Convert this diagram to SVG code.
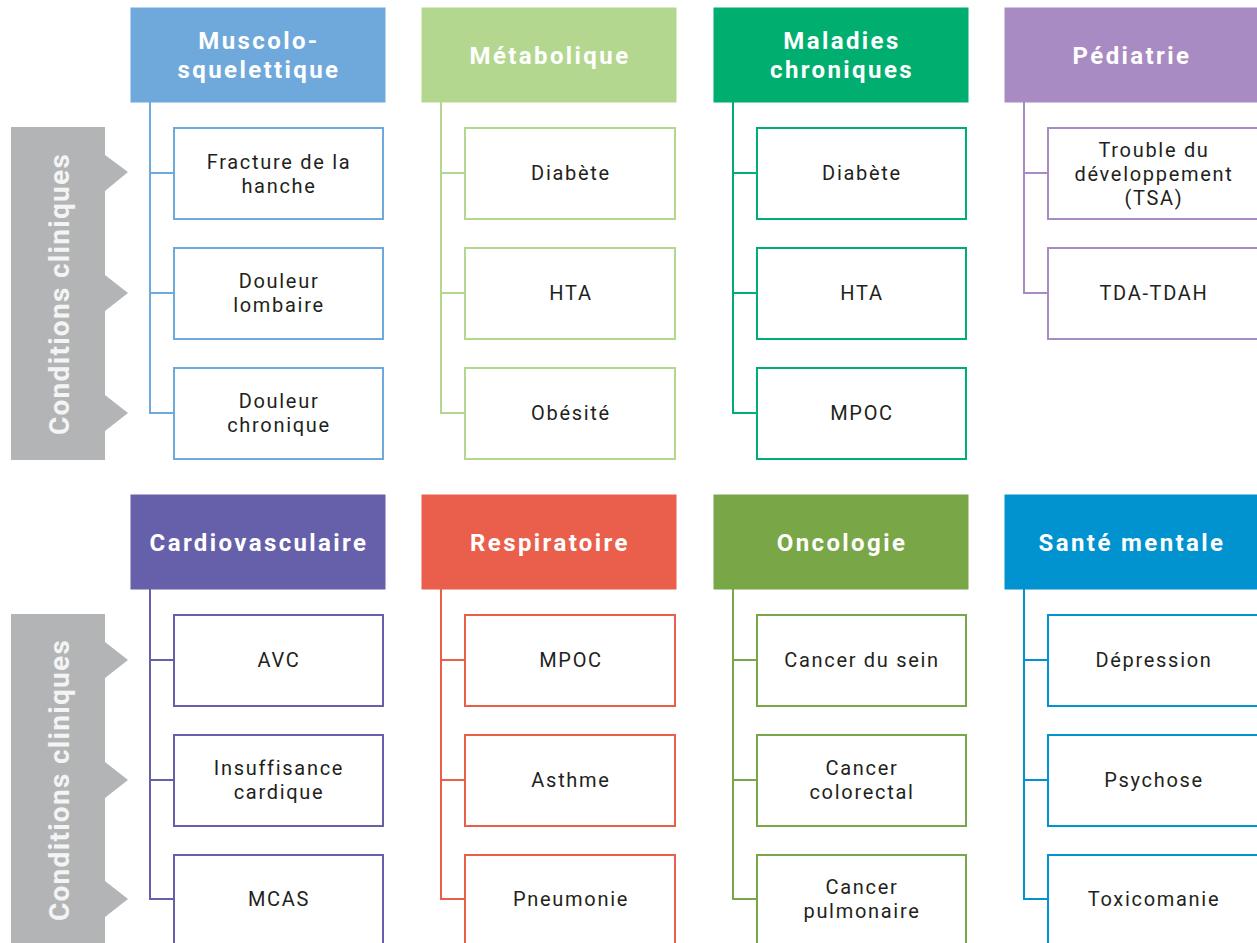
<svg xmlns="http://www.w3.org/2000/svg" width="1257" height="943" viewBox="0 0 1257 943">
<style>
.hd{stroke:none}
.bx{fill:#fff;stroke-width:2}
.ln{fill:none;stroke-width:2}
.ht{font-family:Roboto,"Open Sans",sans-serif;font-weight:700;font-size:24px;letter-spacing:2.4px;fill:#fff;text-anchor:middle}
.ct{font-family:Roboto,"Open Sans",sans-serif;font-size:20px;letter-spacing:1.7px;fill:#231f20;text-anchor:middle}
.side{fill:#b3b4b6}
.st{font-family:Roboto,"Open Sans",sans-serif;font-weight:700;font-size:28px;letter-spacing:1.3px;fill:#f4f4f4;text-anchor:middle}
.k1{fill:#6fa9dc;stroke:#6fa9dc}.k2{fill:#b3d78f;stroke:#b3d78f}.k3{fill:#00ae6f;stroke:#00ae6f}.k4{fill:#a88bc2;stroke:#a88bc2}
.k5{fill:#6660ab;stroke:#6660ab}.k6{fill:#ea5f4b;stroke:#ea5f4b}.k7{fill:#79a646;stroke:#79a646}.k8{fill:#0192d0;stroke:#0192d0}
.s1{stroke:#6fa9dc}.s2{stroke:#b3d78f}.s3{stroke:#00ae6f}.s4{stroke:#a88bc2}.s5{stroke:#6660ab}.s6{stroke:#ea5f4b}.s7{stroke:#79a646}.s8{stroke:#0192d0}
</style>
<rect width="1257" height="943" fill="#fff"/>
<g id="side1">
<path class="side" d="M11 127H105V155L128 172L105 191V275L128 293L105 311V395L128 413L105 431V460H11Z"/>
<text class="st" transform="translate(69 294) rotate(-90)">Conditions cliniques</text>
</g>
<g id="side2">
<path class="side" d="M11 614H105V642L128 660L105 678V762L128 780L105 798V881L128 899L105 917V943H11Z"/>
<text class="st" transform="translate(69 780) rotate(-90)">Conditions cliniques</text>
</g>
<g id="connectors">
<path class="ln s1" d="M150 101V413H173M150 173H173M150 293H173"/>
<path class="ln s2" d="M441 101V413H464M441 173H464M441 293H464"/>
<path class="ln s3" d="M733 101V413H756M733 173H756M733 293H756"/>
<path class="ln s4" d="M1024 101V293H1047M1024 173H1047"/>
<path class="ln s5" d="M150 589V899H173M150 660H173M150 780H173"/>
<path class="ln s6" d="M441 589V899H464M441 660H464M441 780H464"/>
<path class="ln s7" d="M733 589V899H756M733 660H756M733 780H756"/>
<path class="ln s8" d="M1024 589V899H1047M1024 660H1047M1024 780H1047"/>
</g>
<g id="h-muscolo"><rect class="hd k1" x="131" y="8" width="254" height="94"/><text class="ht" x="259" y="49">Muscolo-</text><text class="ht" x="259" y="78">squelettique</text></g>
<g id="h-metabolique"><rect class="hd k2" x="422" y="8" width="254" height="94"/><text class="ht" x="550" y="64">Métabolique</text></g>
<g id="h-maladies"><rect class="hd k3" x="714" y="8" width="254" height="94"/><text class="ht" x="842" y="49">Maladies</text><text class="ht" x="842" y="78">chroniques</text></g>
<g id="h-pediatrie"><rect class="hd k4" x="1005" y="8" width="252" height="94"/><text class="ht" x="1132" y="64">Pédiatrie</text></g>
<g id="h-cardio"><rect class="hd k5" x="131" y="495" width="254" height="94"/><text class="ht" x="259" y="551">Cardiovasculaire</text></g>
<g id="h-respi"><rect class="hd k6" x="422" y="495" width="254" height="94"/><text class="ht" x="550" y="551">Respiratoire</text></g>
<g id="h-onco"><rect class="hd k7" x="714" y="495" width="254" height="94"/><text class="ht" x="842" y="551">Oncologie</text></g>
<g id="h-sante"><rect class="hd k8" x="1005" y="495" width="252" height="94"/><text class="ht" x="1132" y="551">Santé mentale</text></g>

<g id="n-fracture"><rect class="bx s1" x="174" y="128" width="209" height="91"/><text class="ct" x="279" y="169">Fracture de la</text><text class="ct" x="279" y="193">hanche</text></g>
<g id="n-lombaire"><rect class="bx s1" x="174" y="248" width="209" height="91"/><text class="ct" x="279" y="288">Douleur</text><text class="ct" x="279" y="312">lombaire</text></g>
<g id="n-chronique"><rect class="bx s1" x="174" y="368" width="209" height="91"/><text class="ct" x="279" y="408">Douleur</text><text class="ct" x="279" y="432">chronique</text></g>

<g id="n-diabete1"><rect class="bx s2" x="465" y="128" width="210" height="91"/><text class="ct" x="571" y="180">Diabète</text></g>
<g id="n-hta1"><rect class="bx s2" x="465" y="248" width="210" height="91"/><text class="ct" x="571" y="300">HTA</text></g>
<g id="n-obesite"><rect class="bx s2" x="465" y="368" width="210" height="91"/><text class="ct" x="571" y="420">Obésité</text></g>

<g id="n-diabete2"><rect class="bx s3" x="757" y="128" width="209" height="91"/><text class="ct" x="862" y="180">Diabète</text></g>
<g id="n-hta2"><rect class="bx s3" x="757" y="248" width="209" height="91"/><text class="ct" x="862" y="300">HTA</text></g>
<g id="n-mpoc1"><rect class="bx s3" x="757" y="368" width="209" height="91"/><text class="ct" x="862" y="420">MPOC</text></g>

<g id="n-tsa"><rect class="bx s4" x="1048" y="128" width="211" height="91"/><text class="ct" x="1154" y="157">Trouble du</text><text class="ct" x="1154" y="181">développement</text><text class="ct" x="1154" y="205">(TSA)</text></g>
<g id="n-tdah"><rect class="bx s4" x="1048" y="248" width="211" height="91"/><text class="ct" x="1154" y="300">TDA-TDAH</text></g>

<g id="n-avc"><rect class="bx s5" x="174" y="615" width="209" height="91"/><text class="ct" x="279" y="667">AVC</text></g>
<g id="n-insuff"><rect class="bx s5" x="174" y="735" width="209" height="91"/><text class="ct" x="279" y="775">Insuffisance</text><text class="ct" x="279" y="799">cardique</text></g>
<g id="n-mcas"><rect class="bx s5" x="174" y="855" width="209" height="91"/><text class="ct" x="279" y="906">MCAS</text></g>

<g id="n-mpoc2"><rect class="bx s6" x="465" y="615" width="210" height="91"/><text class="ct" x="571" y="667">MPOC</text></g>
<g id="n-asthme"><rect class="bx s6" x="465" y="735" width="210" height="91"/><text class="ct" x="571" y="787">Asthme</text></g>
<g id="n-pneumonie"><rect class="bx s6" x="465" y="855" width="210" height="91"/><text class="ct" x="571" y="906">Pneumonie</text></g>

<g id="n-sein"><rect class="bx s7" x="757" y="615" width="209" height="91"/><text class="ct" x="862" y="667">Cancer du sein</text></g>
<g id="n-colorectal"><rect class="bx s7" x="757" y="735" width="209" height="91"/><text class="ct" x="862" y="775">Cancer</text><text class="ct" x="862" y="799">colorectal</text></g>
<g id="n-pulmonaire"><rect class="bx s7" x="757" y="855" width="209" height="91"/><text class="ct" x="862" y="894">Cancer</text><text class="ct" x="862" y="918">pulmonaire</text></g>

<g id="n-depression"><rect class="bx s8" x="1048" y="615" width="211" height="91"/><text class="ct" x="1154" y="667">Dépression</text></g>
<g id="n-psychose"><rect class="bx s8" x="1048" y="735" width="211" height="91"/><text class="ct" x="1154" y="787">Psychose</text></g>
<g id="n-toxico"><rect class="bx s8" x="1048" y="855" width="211" height="91"/><text class="ct" x="1154" y="906">Toxicomanie</text></g>
</svg>
